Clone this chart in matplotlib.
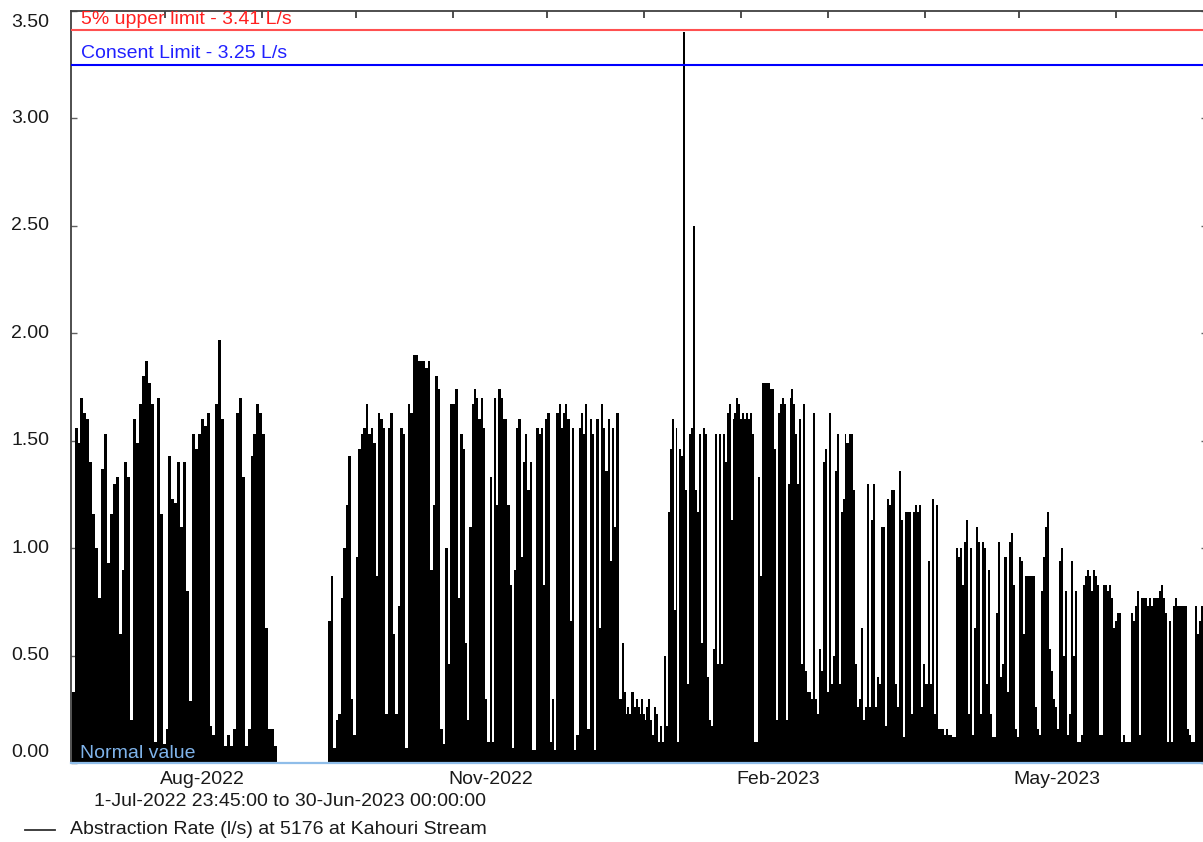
import matplotlib
matplotlib.use('Agg')
import matplotlib.pyplot as plt
import matplotlib.dates as mdates
from matplotlib.lines import Line2D
import numpy as np
from datetime import datetime

plt.rcParams['font.family'] = ['Liberation Sans', 'DejaVu Sans']

# ---------------- data ----------------
origin = datetime(2022, 7, 1)          # day 0
view_start_day = 0.9896                # 1-Jul-2022 23:45
view_end_day = 364.0                   # 30-Jun-2023 00:00

consent_limit = 3.25
upper_limit = 3.41

# segments of the record: start/end (days since 1-Jul-2022), base level, peak readings
seg_start_day = [1.21, 83.2, 126.9, 176.0, 186.0, 248.8, 309.0]
seg_end_day = [66.8, 126.9, 176.0, 186.0, 248.8, 309.0, 362.8]
seg_base = [0.08, 0.06, 0.06, 0.12, 0.10, 0.12, 0.10]

peaks_jul_sep = [0.33, 1.56, 1.49, 1.70, 1.63, 1.60, 1.40, 1.16, 1.00, 0.77,
                 1.37, 1.53, 0.93, 1.16, 1.30, 1.33, 0.60, 0.90, 1.40, 1.33,
                 0.20, 1.60, 1.49, 1.67, 1.80, 1.87, 1.77, 1.67, 0.10, 1.70,
                 1.16, 0.09, 0.16, 1.43, 1.23, 1.21, 1.40, 1.10, 1.40, 0.80,
                 0.29, 1.53, 1.46, 1.53, 1.60, 1.57, 1.63, 0.17, 0.13, 1.67,
                 1.97, 1.60, 0.03, 0.13, 0.07, 0.16, 1.63, 1.70, 1.33, 0.03,
                 0.16, 1.43, 1.53, 1.67, 1.63, 1.53, 0.63, 0.16, 0.16, 0.03]
peaks_sep_nov = [0.66, 0.87, 0.07, 0.20, 0.23, 0.77, 1.00, 1.20, 1.43, 0.30,
                 0.13, 0.96, 1.46, 1.53, 1.56, 1.67, 1.53, 1.56, 1.49, 0.87,
                 1.63, 1.60, 1.56, 0.23, 1.56, 1.63, 0.60, 0.23, 0.73, 1.56,
                 1.53, 0.07, 1.67, 1.63, 1.90, 1.90, 1.87, 1.87, 1.87, 1.84,
                 1.87, 0.90, 1.20, 1.80, 1.74, 0.16, 0.09, 1.00, 0.46, 1.67,
                 1.67, 1.74, 0.77, 1.53, 1.46]
peaks_nov_dec = [0.56, 0.20, 1.10, 1.67, 1.74, 1.70, 1.60, 1.70, 1.56, 0.30,
                 0.10, 1.33, 0.10, 1.70, 1.20, 1.74, 1.70, 1.60, 1.60, 1.20,
                 0.83, 0.07, 0.90, 1.56, 1.60, 0.96, 1.40, 1.53, 1.27, 1.40,
                 0.03, 0.00, 1.56, 1.53, 1.56, 0.83, 1.60, 1.63, 0.10, 0.30,
                 0.00, 1.63, 1.67, 1.56, 1.63, 1.67, 1.60, 0.66, 1.56, 0.04,
                 0.13, 1.56, 1.63, 1.53, 1.67, 0.16, 1.60, 1.53, 0.00, 1.60,
                 0.63, 1.67, 1.56, 1.36, 1.60, 0.94, 1.56, 1.10, 1.63]
peaks_holiday = [0.30, 0.30, 0.56, 0.33, 0.23, 0.26, 0.23, 0.33, 0.33, 0.26,
                 0.30, 0.26, 0.23, 0.30, 0.23, 0.20, 0.26, 0.30]
peaks_jan_mar = [0.20, 0.13, 0.26, 0.23, 0.10, 0.17, 0.10, 0.50, 0.17, 1.17,
                 1.46, 1.60, 0.71, 1.56, 0.10, 1.46, 1.43, 3.40, 1.27, 0.37,
                 1.53, 1.56, 2.50, 1.27, 1.17, 1.53, 0.56, 1.56, 1.53, 0.40,
                 0.20, 0.17, 0.53, 1.53, 0.46, 1.53, 0.46, 1.53, 1.40, 1.63,
                 1.67, 1.13, 1.60, 1.63, 1.70, 1.67, 1.60, 1.63, 1.60, 1.63,
                 1.60, 1.63, 1.53, 0.07, 0.07, 1.33, 0.87, 1.77, 1.77, 1.77,
                 1.77, 1.74, 1.74, 1.46, 0.20, 1.63, 1.67, 1.70, 1.67, 0.20,
                 1.30, 1.70, 1.74, 1.67, 1.53, 1.30, 1.60, 0.46, 1.67, 0.43,
                 0.33, 0.33, 0.30, 1.63, 0.30, 0.23, 0.53, 0.43, 1.40, 1.46,
                 0.33, 1.63, 0.37, 0.50, 1.36, 1.53, 0.37, 1.17, 1.23, 1.53]
peaks_mar_may = [1.49, 1.53, 1.53, 1.27, 0.46, 0.26, 0.30, 0.63, 0.20, 0.26,
                 1.30, 0.26, 1.13, 1.30, 0.26, 0.40, 0.37, 1.10, 1.10, 0.17,
                 1.23, 1.20, 1.27, 1.27, 0.37, 0.26, 1.36, 1.13, 0.10, 1.17,
                 1.17, 1.17, 0.23, 1.17, 1.20, 1.17, 1.20, 0.26, 0.46, 0.37,
                 0.94, 0.37, 1.23, 0.23, 1.20, 0.16, 0.16, 0.16, 0.13, 0.16,
                 0.13, 0.13, 0.03, 0.03, 1.00, 0.96, 1.00, 0.83, 1.03, 1.13,
                 0.23, 1.00, 0.13, 0.63, 1.10, 1.03, 0.23, 1.03, 1.00, 0.37,
                 0.90, 0.23, 0.10, 0.07, 0.70, 1.03, 0.40, 0.46, 0.96, 0.33,
                 1.03, 1.07, 0.83, 0.16, 0.07, 0.96, 0.94, 0.60, 0.87, 0.87,
                 0.87, 0.87, 0.87]
peaks_may_jun = [0.26, 0.16, 0.13, 0.80, 0.96, 1.10, 1.17, 0.53, 0.43, 0.30,
                 0.26, 0.16, 0.94, 1.00, 0.50, 0.80, 0.13, 0.23, 0.94, 0.50,
                 0.80, 0.10, 0.10, 0.13, 0.83, 0.87, 0.90, 0.87, 0.80, 0.90,
                 0.87, 0.83, 0.13, 0.13, 0.83, 0.83, 0.80, 0.83, 0.77, 0.63,
                 0.66, 0.70, 0.70, 0.10, 0.13, 0.10, 0.10, 0.07, 0.70, 0.66,
                 0.73, 0.80, 0.13, 0.77, 0.77, 0.77, 0.73, 0.77, 0.73, 0.77,
                 0.77, 0.77, 0.80, 0.83, 0.77, 0.70, 0.10, 0.66, 0.07, 0.73,
                 0.77, 0.73, 0.73, 0.73, 0.73, 0.73, 0.16, 0.13, 0.07, 0.10,
                 0.73, 0.60, 0.66, 0.73]
seg_values = [peaks_jul_sep, peaks_sep_nov, peaks_nov_dec, peaks_holiday,
              peaks_jan_mar, peaks_mar_may, peaks_may_jun]

y_ticks = [0.0, 0.5, 1.0, 1.5, 2.0, 2.5, 3.0, 3.5]
month_labels = ['Aug-2022', 'Nov-2022', 'Feb-2023', 'May-2023']
month_label_dates = [datetime(2022, 8, 13), datetime(2022, 11, 13),
                     datetime(2023, 2, 13), datetime(2023, 5, 13)]
month_tick_dates = [datetime(2022, m, 1) for m in range(8, 13)] + \
                   [datetime(2023, m, 1) for m in range(1, 7)]

# ---------------- styles ----------------
W, H = 1203, 842
ax_left_px, ax_right_px, ax_top_px, ax_bottom_px = 71, 1207, 11, 763
FS = 14

fig = plt.figure(figsize=(W / 100, H / 100), dpi=100)
ax = fig.add_axes([ax_left_px / W, 1 - ax_bottom_px / H,
                   (ax_right_px - ax_left_px) / W, (ax_bottom_px - ax_top_px) / H])

x0 = mdates.date2num(origin)
for start, end, base, vals in zip(seg_start_day, seg_end_day, seg_base, seg_values):
    n = len(vals)
    edges = x0 + np.linspace(start, end, n + 1)
    ax.fill_between([x0 + start, x0 + end], 0, base, color='black', lw=0, zorder=2)
    ax.stairs(np.asarray(vals), edges, baseline=0, fill=True, color='black',
              lw=0, zorder=2)

ax.set_xlim(x0 + view_start_day, x0 + view_end_day)
ax.set_ylim(0, 3.5)

# limit lines
ax.axhline(upper_limit, color='#ff5050', lw=1.5, zorder=3)
ax.axhline(consent_limit, color='#0000ff', lw=1.5, zorder=3)
ax.axhline(0, color='#8fbde9', lw=1.6, zorder=4, clip_on=False)

ax.text(0.0088, 3.462, '5% upper limit - 3.41 L/s', color='#ff2020', fontsize=FS,
        ha='left', va='center', transform=ax.get_yaxis_transform(), zorder=5)
ax.text(0.0088, 3.304, 'Consent Limit - 3.25 L/s', color='#2020ff', fontsize=FS,
        ha='left', va='center', transform=ax.get_yaxis_transform(), zorder=5)
ax.text(0.0079, 0.0465, 'Normal value', color='#7fb3ea', fontsize=FS,
        ha='left', va='center', transform=ax.get_yaxis_transform(), zorder=5)

# spines & ticks
for s in ['left', 'top', 'right']:
    ax.spines[s].set_color('#404040')
    ax.spines[s].set_linewidth(1.3)
ax.spines['bottom'].set_visible(False)

ax.set_xticks([mdates.date2num(d) for d in month_tick_dates])
ax.tick_params(axis='x', bottom=False, top=True, direction='in', length=5,
               width=1.3, color='#404040', labelbottom=False, labeltop=False)
ax.set_yticks(y_ticks)
ax.tick_params(axis='y', left=True, right=True, direction='in', length=4,
               width=1.0, color='#606060', labelleft=False, labelright=False)

# y tick labels (end labels pulled inside the frame)
for v in y_ticks:
    ypos = v
    if v == 0.0:
        ypos = 0.049
    elif v == 3.5:
        ypos = 3.448
    ax.text(-(ax_left_px - 49) / (ax_right_px - ax_left_px), ypos, f'{v:.2f}',
            fontsize=FS, ha='right', va='center', color='#1a1a1a',
            transform=ax.get_yaxis_transform(), clip_on=False)

# month labels
lab_y = -(780 - ax_bottom_px) / (ax_bottom_px - ax_top_px)
for d, lab in zip(month_label_dates, month_labels):
    ax.text(mdates.date2num(d), lab_y, lab, fontsize=FS, ha='center', va='center',
            color='#1a1a1a', transform=ax.get_xaxis_transform(), clip_on=False)

# period and legend
fig.text(290 / W, 1 - 802 / H, '1-Jul-2022 23:45:00 to 30-Jun-2023 00:00:00',
         fontsize=FS, ha='center', va='center', color='#1a1a1a')
fig.add_artist(Line2D([25 / W, 55 / W], [1 - 830 / H, 1 - 830 / H],
                      color='#303030', lw=1.3))
fig.text(70 / W, 1 - 830 / H, 'Abstraction Rate (l/s) at 5176 at Kahouri Stream',
         fontsize=FS, ha='left', va='center', color='#1a1a1a')

fig.savefig('out.png', dpi=100)
